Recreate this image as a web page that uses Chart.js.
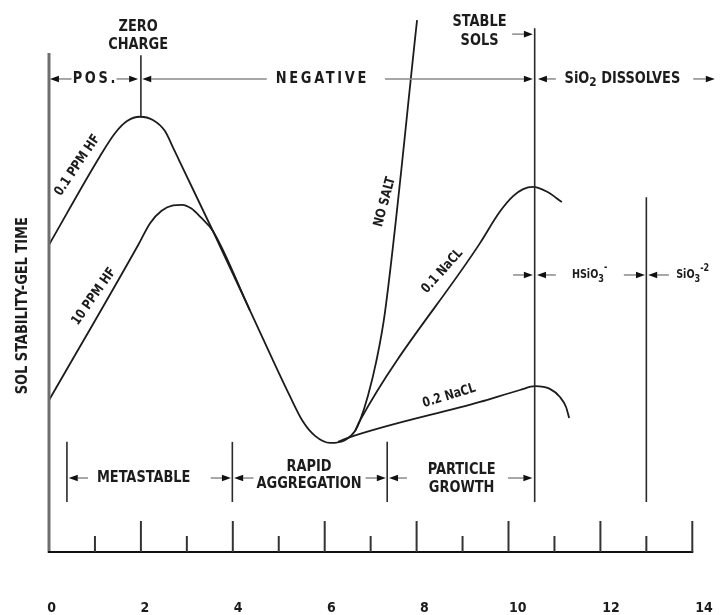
<!DOCTYPE html>
<html><head><meta charset="utf-8">
<style>html,body{margin:0;padding:0;background:#fff}#wrap{width:726px;height:615px}</style>
<script src="https://cdn.jsdelivr.net/npm/chart.js@4/dist/chart.umd.min.js"></script>
</head><body><div id="wrap"><canvas id="c" width="726" height="615"></canvas></div>
<script>
// ---- data (pH on x, relative sol stability / gel time on y, 0-100) ----
const phHF01   = [0.00, 1.11, 1.44, 1.70, 1.98, 2.26, 2.52, 2.70, 2.85, 3.57, 4.37, 5.24, 5.53, 5.79, 6.12, 6.44, 6.66, 6.77, 6.94, 7.12, 7.31, 8.01];
const stabHF01 = [56.9, 73.3, 77.6, 79.8, 80.6, 80.0, 78.0, 74.9, 72.2, 59.4, 44.8, 28.9, 24.1, 21.5, 20.2, 20.7, 22.4, 24.4, 28.9, 35.2, 44.3, 98.5];
const phHF10   = [0.00, 1.95, 2.20, 2.45, 2.70, 2.90, 3.10, 3.30, 3.57, 4.37];
const stabHF10 = [28.1, 57.0, 60.9, 63.2, 64.2, 64.3, 63.6, 62.0, 59.4, 44.8];
const phNaCl01   = [6.66, 6.77, 9.38, 9.81, 10.10, 10.32, 10.53, 10.84, 11.16];
const stabNaCl01 = [22.4, 24.4, 57.2, 63.0, 65.9, 67.2, 67.6, 66.7, 64.8];
const phNaCl02   = [6.29, 6.49, 9.38, 10.25, 10.58, 10.90, 11.12, 11.25, 11.32];
const stabNaCl02 = [20.4, 21.1, 27.8, 30.0, 30.7, 30.2, 28.7, 26.9, 24.8];
const tickValues = [0, 2, 4, 6, 8, 10, 12, 14];
const tickLabels = ['0', '2', '4', '6', '8', '10', '12', '14'];

const FONT = "'DejaVu Sans Condensed','DejaVu Sans',sans-serif";
const INK = '#1c1c1c';
const SX = 0.9; // horizontal condensing of annotation text

function pts(xs, ys) { return xs.map((x, i) => ({x: x, y: ys[i]})); }
function ds(xs, ys) {
  return { data: pts(xs, ys), borderColor: INK, borderWidth: 1.8, pointRadius: 0,
           fill: false, cubicInterpolationMode: 'monotone', xAxisID: 'x', yAxisID: 'y' };
}

function arrow(ctx, tx, hx, y) {
  const d = Math.sign(hx - tx), hl = 9, hw = 3.3;
  ctx.strokeStyle = '#8a8a8a'; ctx.lineWidth = 1.5;
  ctx.beginPath(); ctx.moveTo(tx, y); ctx.lineTo(hx - d * hl, y); ctx.stroke();
  ctx.fillStyle = '#111';
  ctx.beginPath(); ctx.moveTo(hx, y); ctx.lineTo(hx - d * hl, y - hw); ctx.lineTo(hx - d * hl, y + hw); ctx.closePath(); ctx.fill();
}
function text(ctx, t, x, y, size, opt) {
  opt = opt || {};
  ctx.save();
  ctx.translate(x, y);
  if (opt.rot) ctx.rotate(opt.rot * Math.PI / 180);
  ctx.scale(opt.sx || SX, 1);
  ctx.font = 'bold ' + size + 'px ' + FONT;
  ctx.fillStyle = INK;
  ctx.textAlign = opt.align || 'center';
  ctx.textBaseline = 'middle';
  if (opt.spacing) { try { ctx.letterSpacing = opt.spacing + 'px'; } catch (e) {} }
  ctx.fillText(t, 0, 0);
  ctx.restore();
}
function rich(ctx, parts, x, y, sx) {
  ctx.save();
  ctx.translate(x, y);
  ctx.scale(sx || SX, 1);
  let cx = 0;
  parts.forEach(p => {
    ctx.font = 'bold ' + p.s + 'px ' + FONT;
    ctx.fillStyle = INK; ctx.textAlign = 'left'; ctx.textBaseline = 'middle';
    ctx.fillText(p.t, cx, p.dy || 0);
    cx += ctx.measureText(p.t).width;
  });
  ctx.restore();
}

const annot = {
  id: 'annot',
  afterDraw(chart) {
    const ctx = chart.ctx, X = chart.scales.x, Y = chart.scales.y;
    const px = v => X.getPixelForValue(v), py = v => Y.getPixelForValue(v);
    ctx.save();
    // axes
    ctx.strokeStyle = '#6f6f6f'; ctx.lineWidth = 3;
    ctx.beginPath(); ctx.moveTo(px(0), py(92.4)); ctx.lineTo(px(0), py(0) + 1); ctx.stroke();
    ctx.strokeStyle = '#111'; ctx.lineWidth = 2;
    ctx.beginPath(); ctx.moveTo(px(0) - 1, py(0)); ctx.lineTo(px(14) + 1, py(0)); ctx.stroke();
    ctx.strokeStyle = '#333'; ctx.lineWidth = 2;
    for (let v = 1; v <= 14; v++) {
      const len = v % 2 === 0 ? 31 : 16;
      ctx.beginPath(); ctx.moveTo(px(v), py(0)); ctx.lineTo(px(v), py(0) - len); ctx.stroke();
    }
    // vertical region lines
    ctx.strokeStyle = '#2a2a2a'; ctx.lineWidth = 1.6;
    const vlines = [[2.0, 80.6, 92.0], [10.57, 9.26, 97.0], [13.0, 9.26, 65.7],
                    [0.39, 9.26, 20.4], [3.99, 9.26, 20.4], [7.36, 9.26, 20.4]];
    vlines.forEach(l => { ctx.beginPath(); ctx.moveTo(px(l[0]), py(l[1])); ctx.lineTo(px(l[0]), py(l[2])); ctx.stroke(); });
    // arrows [tail, head, y]
    const arrows = [[0.49, 0.02, 87.6], [1.47, 1.94, 87.6], [4.74, 2.03, 87.6], [7.31, 10.53, 87.6],
                    [11.03, 10.64, 87.6], [14.02, 14.49, 87.6], [10.08, 10.53, 95.9],
                    [10.10, 10.53, 51.3], [11.03, 10.62, 51.3], [12.51, 12.97, 51.3], [13.49, 13.04, 51.3],
                    [0.85, 0.43, 13.7], [3.52, 3.96, 13.7], [4.45, 4.03, 13.7], [6.89, 7.33, 13.7],
                    [7.79, 7.40, 13.7], [9.99, 10.52, 13.7]];
    arrows.forEach(a => arrow(ctx, px(a[0]), px(a[1]), py(a[2])));
    // texts
    text(ctx, 'ZERO', px(1.94), py(97.3), 16);
    text(ctx, 'CHARGE', px(1.94), py(93.9), 16);
    text(ctx, 'STABLE', px(9.37), py(98.2), 16);
    text(ctx, 'SOLS', px(9.37), py(94.7), 16);
    text(ctx, 'POS.', px(1.01), py(87.6), 16, {spacing: 3});
    text(ctx, 'NEGATIVE', px(5.95), py(87.6), 16, {spacing: 3});
    rich(ctx, [{t: 'SiO', s: 16}, {t: '2', s: 13, dy: 4}, {t: ' DISSOLVES', s: 16}], px(11.22), py(87.6));
    text(ctx, 'METASTABLE', px(2.06), py(13.7), 16);
    text(ctx, 'RAPID', px(5.66), py(15.8), 16);
    text(ctx, 'AGGREGATION', px(5.66), py(12.6), 16);
    text(ctx, 'PARTICLE', px(8.98), py(15.2), 16);
    text(ctx, 'GROWTH', px(8.98), py(11.8), 16);
    rich(ctx, [{t: 'HSiO', s: 13}, {t: '3', s: 11, dy: 4}, {t: '-', s: 11, dy: -8}], px(11.38), py(51.3), 0.82);
    rich(ctx, [{t: 'SiO', s: 13}, {t: '3', s: 11, dy: 4}, {t: '-2', s: 11, dy: -7}], px(13.65), py(51.3), 0.82);
    text(ctx, '0.1 PPM HF', px(0.62), py(71.6), 13.5, {rot: -56});
    text(ctx, '10 PPM HF', px(0.98), py(47.3), 13.5, {rot: -55});
    text(ctx, 'NO SALT', px(7.31), py(64.8), 13.5, {rot: -75});
    text(ctx, '0.1 NaCL', px(8.56), py(52.0), 13.5, {rot: -48});
    text(ctx, '0.2 NaCL', px(8.71), py(28.9), 13.5, {rot: -17});
    text(ctx, 'SOL STABILITY-GEL TIME', px(-0.57), py(45.6), 16, {rot: -90});
    ctx.restore();
  }
};

new Chart(document.getElementById('c'), {
  type: 'line',
  data: { datasets: [ds(phHF01, stabHF01), ds(phHF10, stabHF10), ds(phNaCl01, stabNaCl01), ds(phNaCl02, stabNaCl02)] },
  options: {
    responsive: false, animation: false, devicePixelRatio: 1,
    layout: { padding: { left: 49, right: 33.7, top: 12, bottom: 0 } },
    plugins: { legend: { display: false }, tooltip: { enabled: false } },
    scales: {
      x: { type: 'linear', min: 0, max: 14, display: false },
      y: { type: 'linear', min: 0, max: 100, display: false },
      xl: {
        type: 'linear', axis: 'x', position: 'bottom', min: -0.058, max: 13.747,
        grid: { display: false, drawTicks: false }, border: { display: false },
        afterBuildTicks: s => { s.ticks = tickValues.map(v => ({ value: v })); },
        afterFit: s => { s.height = 63; s.paddingLeft = 0; s.paddingRight = 0; },
        ticks: { autoSkip: false, maxRotation: 0, padding: 48, color: INK,
                 font: { family: FONT, size: 14, weight: 'bold' },
                 callback: (v, i) => tickLabels[i] }
      }
    }
  },
  plugins: [annot]
});
</script>
</body></html>
